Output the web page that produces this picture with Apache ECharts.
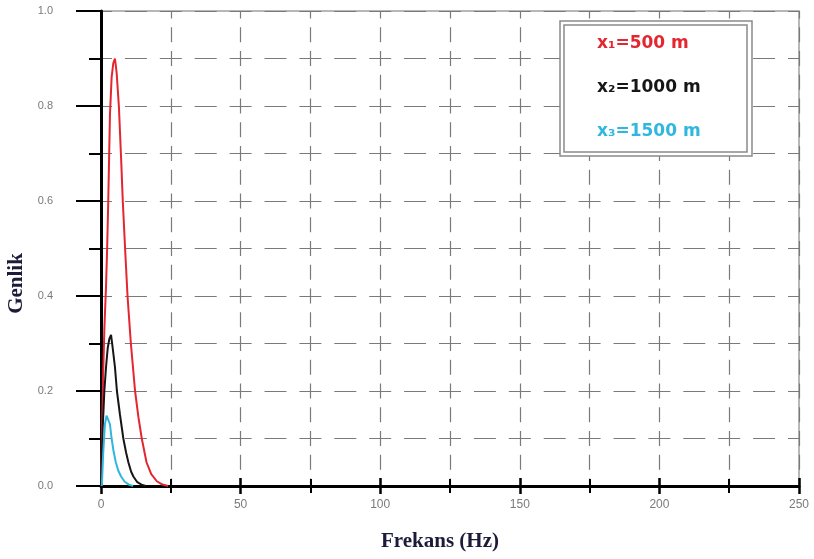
<!DOCTYPE html>
<html>
<head>
<meta charset="utf-8">
<script src="https://cdn.jsdelivr.net/npm/echarts@6/dist/echarts.min.js"></script>
<style>
  html, body { margin: 0; padding: 0; background: #fff; }
  #main { width: 814px; height: 559px; }
</style>
</head>
<body>
<div id="main"></div>
<script>
// spektrum degerleri (okunan noktalar)
var freqRed  = [0, 0.4, 0.8, 1.2, 1.8, 2.2, 2.6, 3.2, 3.8, 4.4, 5.0, 5.6, 6.4, 7.2, 7.8, 8.8, 9.5, 10.7, 12.2, 13.4, 14.6, 16.3, 18, 20, 22, 24];
var ampRed   = [0, 0.12, 0.24, 0.33, 0.42, 0.5, 0.6, 0.78, 0.86, 0.89, 0.9, 0.87, 0.8, 0.69, 0.6, 0.48, 0.4, 0.3, 0.2, 0.145, 0.1, 0.05, 0.025, 0.01, 0.003, 0];

var freqBlack = [0, 0.6, 1.2, 1.8, 2.4, 3.0, 3.6, 4.2, 5.0, 5.7, 6.8, 8.0, 9.0, 9.8, 10.8, 11.6, 13, 14.5, 16];
var ampBlack  = [0, 0.12, 0.2, 0.25, 0.29, 0.31, 0.318, 0.29, 0.25, 0.2, 0.15, 0.1, 0.07, 0.05, 0.03, 0.02, 0.008, 0.003, 0];

var freqCyan = [0.3, 0.8, 1.4, 2.0, 2.6, 3.2, 3.8, 4.5, 5.3, 6.2, 7.2, 8.5, 10, 11.5];
var ampCyan  = [0, 0.07, 0.13, 0.148, 0.152, 0.13, 0.1, 0.073, 0.05, 0.032, 0.02, 0.009, 0.003, 0];

var seriesNames = ['x\u2081=500 m', 'x\u2082=1000 m', 'x\u2083=1500 m'];
var seriesColors = ['#e3262f', '#161616', '#2fb7e0'];

function pairs(xs, ys) {
    var out = [];
    for (var i = 0; i < xs.length; i++) {
        out.push([xs[i], ys[i]]);
    }
    return out;
}

var myChart = echarts.init(document.getElementById('main'));

var gridDashX = { color: '#7a7a7a', width: 1.2, type: [15, 8.75], dashOffset: 7.5 };
var gridDashY = { color: '#7a7a7a', width: 1.2, type: [22, 12.9], dashOffset: 11 };

var option = {
    animation: false,
    backgroundColor: '#fff',
    grid: {
        left: 101, right: 15, top: 11, bottom: 73,
        outerBoundsMode: 'none',
        containLabel: false,
        show: true, borderColor: '#a0a0a0', borderWidth: 1.5
    },
    legend: {
        orient: 'vertical',
        left: 587,
        top: 30,
        itemGap: 27,
        itemWidth: 0,
        icon: 'none',
        selectedMode: false,
        z: 20,
        data: [
            { name: seriesNames[0], textStyle: { color: seriesColors[0] } },
            { name: seriesNames[1], textStyle: { color: seriesColors[1] } },
            { name: seriesNames[2], textStyle: { color: seriesColors[2] } }
        ],
        textStyle: { fontFamily: 'DejaVu Sans', fontWeight: 'bold', fontSize: 17 }
    },
    graphic: [
        { type: 'rect', z: 10, shape: { x: 560, y: 21, width: 192, height: 135 },
          style: { fill: '#fff', stroke: '#8a8a8a', lineWidth: 1.5 } },
        { type: 'rect', z: 11, shape: { x: 564, y: 25, width: 183, height: 127 },
          style: { fill: '#fff', stroke: '#8a8a8a', lineWidth: 1.5 } }
    ],
    xAxis: [
        {
            type: 'value', min: 0, max: 250, interval: 50,
            name: 'Frekans (Hz)', nameLocation: 'middle', nameGap: 45,
            nameTextStyle: { fontFamily: 'Liberation Serif', fontWeight: 'bold', fontSize: 21, color: '#1c1c3a', padding: [0, 20, 0, 0] },
            axisLine: { show: true, onZero: false, lineStyle: { color: '#000', width: 3 } },
            axisTick: { show: true, length: 8, lineStyle: { color: '#000', width: 2.5 } },
            minorTick: { show: true, splitNumber: 2, length: 7, lineStyle: { color: '#000', width: 2 } },
            axisLabel: { color: '#7a7a7a', fontFamily: 'Liberation Sans', fontSize: 12, margin: 13 },
            splitLine: { show: true, lineStyle: gridDashX },
            minorSplitLine: { show: true, lineStyle: gridDashX }
        },
        {
            type: 'value', min: 0, max: 250, interval: 50, position: 'bottom',
            axisLine: { show: false },
            axisTick: { show: true, inside: true, length: 8, lineStyle: { color: '#000', width: 2.5 } },
            minorTick: { show: true, splitNumber: 2, length: 7, lineStyle: { color: '#000', width: 2 } },
            axisLabel: { show: false },
            splitLine: { show: false }
        }
    ],
    yAxis: {
        type: 'value', min: 0, max: 1, interval: 0.2,
        name: 'Genlik', nameLocation: 'middle', nameGap: 70,
        nameTextStyle: { fontFamily: 'Liberation Serif', fontWeight: 'bold', fontSize: 21, color: '#1c1c3a', padding: [0, 70, 0, 0] },
        axisLine: { show: true, onZero: false, lineStyle: { color: '#000', width: 3 } },
        axisTick: { show: true, length: 25, lineStyle: { color: '#000', width: 2 } },
        minorTick: { show: true, splitNumber: 2, length: 12, lineStyle: { color: '#000', width: 2 } },
        axisLabel: {
            color: '#7a7a7a', fontFamily: 'Liberation Sans', fontSize: 11, margin: 48,
            formatter: function (v) { return v.toFixed(1); }
        },
        splitLine: { show: true, lineStyle: gridDashY },
        minorSplitLine: { show: true, lineStyle: gridDashY }
    },
    series: [
        {
            name: seriesNames[0], type: 'line', xAxisIndex: 0, showSymbol: false,
            data: pairs(freqRed, ampRed), z: 5,
            lineStyle: { color: seriesColors[0], width: 2 }, itemStyle: { color: seriesColors[0] }
        },
        {
            name: seriesNames[1], type: 'line', xAxisIndex: 0, showSymbol: false,
            data: pairs(freqBlack, ampBlack), z: 5,
            lineStyle: { color: seriesColors[1], width: 2 }, itemStyle: { color: seriesColors[1] }
        },
        {
            name: seriesNames[2], type: 'line', xAxisIndex: 0, showSymbol: false,
            data: pairs(freqCyan, ampCyan), z: 5,
            lineStyle: { color: seriesColors[2], width: 2 }, itemStyle: { color: seriesColors[2] }
        }
    ]
};

myChart.setOption(option);
</script>
</body>
</html>
